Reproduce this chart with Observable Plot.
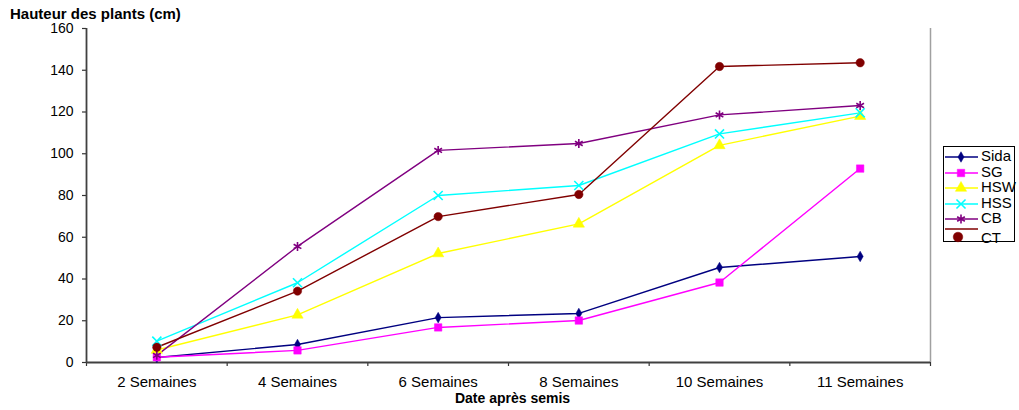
<!DOCTYPE html>
<html>
<head>
<meta charset="utf-8">
<script src="https://cdn.jsdelivr.net/npm/d3@7"></script>
<script src="https://cdn.jsdelivr.net/npm/@observablehq/plot@0.6"></script>
<style>
  html, body { margin: 0; padding: 0; background: #fff; }
  #wrap { position: relative; width: 1019px; height: 410px; font-family: "Liberation Sans", Arial, sans-serif; }
  #title { position: absolute; left: 10px; top: 7px; font-size: 15px; line-height: 13px; font-weight: bold; color: #000; }
  #legend { position: absolute; left: 943px; top: 146px; width: 72px; height: 96px; border: 1px solid #000; box-sizing: border-box; }
  .item { position: absolute; left: 0; height: 16px; font-size: 15px; color: #000; }
  .item svg { position: absolute; left: 0; top: 0; }
  .item span { position: absolute; left: 37px; top: -1px; line-height: 16px; }
</style>
</head>
<body>
<div id="wrap">
  <div id="chart"></div>
  <div id="title">Hauteur des plants (cm)</div>
  <div id="legend"></div>
</div>
<script>
// Weeks after sowing
const weeks = ["2 Semaines", "4 Semaines", "6 Semaines", "8 Semaines", "10 Semaines", "11 Semaines"];

// Plant height (cm) per treatment
const sida = [2.4, 8.6, 21.5, 23.5, 45.5, 50.8];
const sg   = [2.5, 5.8, 16.8, 20.1, 38.3, 92.9];
const hsw  = [6.0, 22.8, 52.2, 66.4, 104.0, 118.0];
const hss  = [10.2, 38.2, 80.0, 84.8, 109.5, 119.6];
const cb   = [3.4, 55.6, 101.6, 104.9, 118.6, 123.1];
const ct   = [7.3, 34.2, 69.9, 80.5, 141.8, 143.6];

const yTicks = [0, 20, 40, 60, 80, 100, 120, 140, 160];

const series = [
  {name: "Sida", values: sida, color: "#000080", symbol: "diamond", r: 3.2, filled: true},
  {name: "SG",   values: sg,   color: "#FF00FF", symbol: "square",  r: 4.2, filled: true},
  {name: "HSW",  values: hsw,  color: "#FFFF00", symbol: "triangle", r: 4.2, filled: true},
  {name: "HSS",  values: hss,  color: "#00FFFF", symbol: "times",   r: 4.2, filled: false},
  {name: "CB",   values: cb,   color: "#800080", symbol: "asterisk", r: 4.2, filled: false},
  {name: "CT",   values: ct,   color: "#800000", symbol: "circle",  r: 4.2, filled: true}
];

const rows = series.flatMap(s => s.values.map((v, i) => ({series: s.name, week: i + 0.5, value: v})));
const names = series.map(s => s.name);
const colors = series.map(s => s.color);

const chart = Plot.plot({
  width: 1019,
  height: 410,
  marginLeft: 86,
  marginRight: 89,
  marginTop: 28,
  marginBottom: 48,
  style: {fontFamily: "'Liberation Sans', Arial, sans-serif", color: "#000", background: "transparent"},
  x: {domain: [0, weeks.length]},
  y: {domain: [0, 160]},
  color: {domain: names, range: colors},
  symbol: {domain: names, range: series.map(s => s.symbol)},
  marks: [
    Plot.ruleX([weeks.length], {stroke: "#a0a0a0", strokeWidth: 1.5}),
    Plot.axisY({ticks: yTicks, tickSize: 4, tickPadding: 9, fontSize: 14, label: null, stroke: "#333", strokeWidth: 1.2, strokeOpacity: 1}),
    Plot.axisX({ticks: d3.range(0, weeks.length + 1), tickSize: 4, tickFormat: () => "", label: null, stroke: "#333", strokeWidth: 1.2, strokeOpacity: 1}),
    Plot.axisX({ticks: d3.range(weeks.length).map(i => i + 0.5), tickSize: 0, tickPadding: 14, fontSize: 15, tickFormat: t => weeks[Math.round(t - 0.5)], label: null}),
    Plot.ruleX([0], {stroke: "#404040", strokeWidth: 1.8}),
    Plot.ruleY([0], {stroke: "#404040", strokeWidth: 2}),
    Plot.line(rows, {x: "week", y: "value", z: "series", stroke: "series", strokeWidth: 1.4}),
    ...series.map(s => Plot.dot(rows.filter(d => d.series === s.name), {
      x: "week", y: "value", symbol: "series", r: s.r,
      fill: s.filled ? s.color : "none",
      stroke: s.color, strokeWidth: s.filled ? 0.5 : 1.6
    })),
    Plot.text(["Date après semis"], {frameAnchor: "bottom", dy: 40, fontSize: 14, fontWeight: "bold", dx: 4})
  ]
});
document.getElementById("chart").appendChild(chart);

// Legend: short line segment with the marker, followed by the series name
const legend = d3.select("#legend");
const typeMap = {diamond: d3.symbolDiamond, square: d3.symbolSquare, triangle: d3.symbolTriangle, times: d3.symbolTimes, asterisk: d3.symbolAsterisk, circle: d3.symbolCircle};
series.forEach((s, k) => {
  const top = 2 + k * 15.6;
  const item = legend.append("div").attr("class", "item").style("top", top + "px").style("width", "70px");
  const svg = item.append("svg").attr("width", 36).attr("height", 16);
  const isCT = s.name === "CT";
  svg.append("line")
    .attr("x1", 1).attr("x2", 34)
    .attr("y1", isCT ? 2 : 8).attr("y2", isCT ? 2 : 8)
    .attr("stroke", s.color).attr("stroke-width", 1.5);
  const size = Math.PI * s.r * s.r * (isCT ? 1.3 : 1);
  svg.append("path")
    .attr("d", d3.symbol(typeMap[s.symbol], size)())
    .attr("transform", `translate(${isCT ? 14 : 17},${isCT ? 10 : 8})`)
    .attr("fill", s.filled ? s.color : "none")
    .attr("stroke", s.color)
    .attr("stroke-width", s.filled ? 0.5 : 1.6);
  item.append("span").text(s.name).style("top", isCT ? "3px" : "-1px");
});
</script>
</body>
</html>
